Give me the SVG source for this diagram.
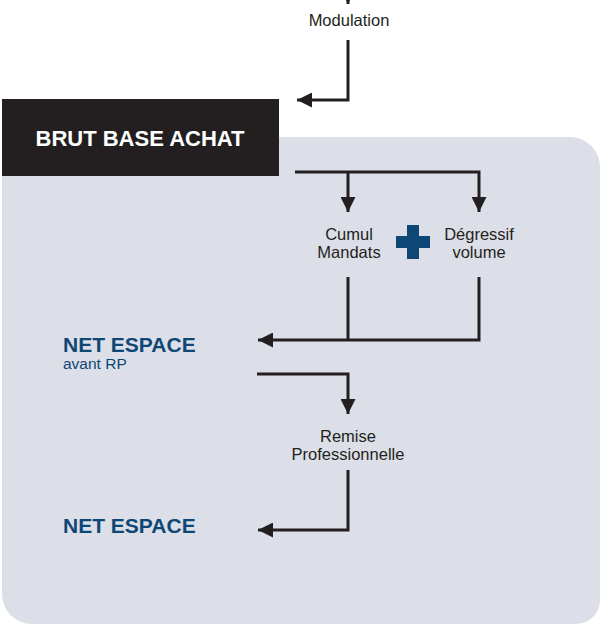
<svg xmlns="http://www.w3.org/2000/svg" width="600" height="624" viewBox="0 0 600 624">
<defs>
<style>
.ln{fill:none;stroke:#231f20;stroke-width:3;stroke-linejoin:miter}
.lbl{font-family:"Liberation Sans",Arial,sans-serif;font-size:16.5px;fill:#231f20;text-anchor:middle}
.blue{font-family:"Liberation Sans",Arial,sans-serif;font-weight:bold;font-size:21px;fill:#0e4775}
.sub{font-family:"Liberation Sans",Arial,sans-serif;font-size:15.5px;fill:#0e4775}
</style>
<marker id="ah" viewBox="0 0 10 10" refX="10" refY="5" markerWidth="15" markerHeight="15" markerUnits="userSpaceOnUse" orient="auto">
<path d="M0,0 L10,5 L0,10 Z" fill="#231f20"/>
</marker>
</defs>
<path id="panel" d="M30,137 H570 A30,30 0 0 1 600,167 V600 A24,24 0 0 1 576,624 H32 A30,30 0 0 1 2,594 V167 A30,30 0 0 1 32,137 Z" fill="#dcdfe8"/>
<g id="connectors">
<path class="ln" d="M348,-8 V4" marker-end="url(#ah)"/>
<path class="ln" d="M348,40 V100 H297" marker-end="url(#ah)"/>
<path class="ln" d="M295,172 H479 V212" marker-end="url(#ah)"/>
<path class="ln" d="M348,172 V212" marker-end="url(#ah)"/>
<path class="ln" d="M348,277 V340"/>
<path class="ln" d="M479,277 V340 H258" marker-end="url(#ah)"/>
<path class="ln" d="M257,374 H348 V414" marker-end="url(#ah)"/>
<path class="ln" d="M348,470 V530 H258" marker-end="url(#ah)"/>
</g>
<g id="modulation"><text class="lbl" x="349" y="26">Modulation</text></g>
<g id="brut">
<rect x="2" y="99" width="277" height="77" fill="#231f20"/>
<text x="140" y="146" font-family="Liberation Sans,Arial,sans-serif" font-weight="bold" font-size="22" fill="#ffffff" text-anchor="middle">BRUT BASE ACHAT</text>
</g>
<g id="cumul"><text class="lbl" x="349" y="240">Cumul</text><text class="lbl" x="349" y="258">Mandats</text></g>
<g id="plus"><path d="M407,225 H419 V236 H430 V248 H419 V259 H407 V248 H396 V236 H407 Z" fill="#0e4775"/></g>
<g id="degressif"><text class="lbl" x="479" y="240">Dégressif</text><text class="lbl" x="479" y="258">volume</text></g>
<g id="net1"><text class="blue" x="63" y="352">NET ESPACE</text><text class="sub" x="63" y="369">avant RP</text></g>
<g id="remise"><text class="lbl" x="348" y="442">Remise</text><text class="lbl" x="348" y="460">Professionnelle</text></g>
<g id="net2"><text class="blue" x="63" y="533">NET ESPACE</text></g>
</svg>
